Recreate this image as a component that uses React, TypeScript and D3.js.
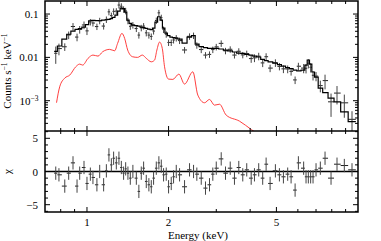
import React, { useRef, useEffect } from 'react';
import * as d3 from 'd3';

// spectrum bins (keV)
const energy = [
  0.767, 0.788, 0.828, 0.856, 0.888, 0.919, 0.940, 0.975, 1.000, 1.029,
  1.052, 1.088, 1.114, 1.152, 1.179, 1.205, 1.230, 1.254, 1.283, 1.312,
  1.339, 1.365, 1.389, 1.416, 1.445, 1.477, 1.521, 1.554, 1.586, 1.618,
  1.655, 1.692, 1.727, 1.761, 1.802, 1.842, 1.880, 1.917, 1.961, 2.000,
  2.046, 2.087, 2.135, 2.196, 2.291, 2.390, 2.473, 2.543, 2.640, 2.737,
  2.832, 2.913, 2.999, 3.128, 3.244, 3.377, 3.501, 3.632, 3.757, 3.886,
  4.035, 4.149, 4.302, 4.450, 4.581, 4.739, 4.957, 5.129, 5.306, 5.503,
  5.664, 5.860, 6.026, 6.302, 6.431, 6.558, 6.688, 6.825, 7.001, 7.262,
  7.558, 7.953, 8.367, 8.903, 9.504,
];

// observed counts s^-1 keV^-1
const counts = [
  0.01244, 0.01596, 0.01757, 0.0329, 0.0516, 0.0294, 0.0441, 0.0560, 0.0409, 0.0657,
  0.0620, 0.0514, 0.0700, 0.0528, 0.0750, 0.1124, 0.0923, 0.1154, 0.1167, 0.1614,
  0.1513, 0.1287, 0.1186, 0.0698, 0.0520, 0.0557, 0.0463, 0.0327, 0.0481, 0.0528,
  0.0368, 0.0327, 0.0304, 0.0405, 0.0708, 0.1066, 0.0826, 0.0439, 0.0342, 0.0221,
  0.0221, 0.0252, 0.0279, 0.0244, 0.01482, 0.0306, 0.0319, 0.01903, 0.01514, 0.0113,
  0.01173, 0.01514, 0.01748, 0.02105, 0.01417, 0.01538, 0.0113, 0.01383, 0.01142, 0.01221,
  0.00938, 0.00976, 0.01066, 0.00746, 0.01035, 0.00566, 0.00752, 0.00621, 0.00543, 0.0054,
  0.00475, 0.00302, 0.00625, 0.00566, 0.0056, 0.0073, 0.0059, 0.00386, 0.0037, 0.00223,
  0.00291, 0.000943, 0.0015, 0.000894, 0.000372,
];

const countErr = [
  0.00535, 0.00479, 0.00351, 0.00658, 0.0103, 0.00588, 0.00882, 0.0112, 0.00818, 0.0112,
  0.0105, 0.0087, 0.0119, 0.0090, 0.0128, 0.0191, 0.0157, 0.0196, 0.0198, 0.0274,
  0.0257, 0.0219, 0.0202, 0.0119, 0.0088, 0.0095, 0.0079, 0.0056, 0.0082, 0.0090,
  0.0063, 0.0056, 0.0052, 0.0069, 0.0120, 0.0181, 0.0140, 0.0075, 0.0058, 0.0038,
  0.0038, 0.0043, 0.0047, 0.0041, 0.0025, 0.0052, 0.0054, 0.0032, 0.0026, 0.0019,
  0.0020, 0.0026, 0.0030, 0.0036, 0.0024, 0.0026, 0.0019, 0.0024, 0.0019, 0.0021,
  0.0019, 0.0020, 0.0021, 0.0015, 0.0021, 0.0011, 0.0015, 0.0012, 0.0011, 0.0011,
  0.00095, 0.0006, 0.00125, 0.00136, 0.00134, 0.00175, 0.00142, 0.00093, 0.00089, 0.00067,
  0.00108, 0.00052, 0.00068, 0.00049, 0.0002,
];

// total folded model
const model = [
  0.0138, 0.0183, 0.0265, 0.0342, 0.0405, 0.0443, 0.0463, 0.0501, 0.0573, 0.0700,
  0.0715, 0.0708, 0.0700, 0.0727, 0.0738, 0.0754, 0.0788, 0.0839, 0.0948, 0.1173,
  0.1376, 0.1340, 0.1112, 0.0727, 0.0610, 0.0557, 0.0543, 0.0528, 0.0501, 0.0488,
  0.0467, 0.0450, 0.0439, 0.0475, 0.0653, 0.0866, 0.0727, 0.0475, 0.0364, 0.0319,
  0.0294, 0.0287, 0.0279, 0.0265, 0.0214, 0.0294, 0.0319, 0.0203, 0.0178, 0.0168,
  0.0161, 0.0161, 0.0161, 0.0156, 0.0147, 0.0142, 0.0133, 0.0126, 0.0124, 0.0117,
  0.0113, 0.0107, 0.0102, 0.0090, 0.0084, 0.0079, 0.0074, 0.0068, 0.0063, 0.0058,
  0.0055, 0.0051, 0.0049, 0.0051, 0.0066, 0.0087, 0.0070, 0.0046, 0.0035, 0.00195,
  0.00154, 0.00115, 0.00094, 0.00055, 0.00033,
];

// residuals (chi)
const chi = [
  -0.25, -0.5, -2.2, -0.25, 1.3, -2.2, -0.25, 0.6, -1.8, -0.4,
  -0.9, -2.0, 0, -2.0, 0.1, 2.5, 1.0, 2.0, 1.3, 2.0,
  0.6, -0.25, 0.4, -0.25, -1.0, 0, -1.0, -3.0, -0.25, 0.5,
  -1.5, -2.0, -2.3, -1.0, 0.5, 1.3, 0.8, -0.5, -0.4, -2.3,
  -1.8, -0.8, 0, -0.5, -2.3, 0.25, 0, -0.4, -1.0, -2.5,
  -2.0, -0.4, 0.5, 1.9, -0.25, 0.5, -1.0, 0.6, -0.5, 0.25,
  -1.0, -0.5, 0.25, -1.0, 1.1, -1.8, 0.1, -0.5, -0.8, -0.4,
  -0.8, -2.8, 1.3, 0.5, -0.8, -0.8, -0.8, -0.8, 0.25, 0.5,
  2.0, -1.0, 1.1, 0.9, 0.25,
];

// soft component (red)
const compEnergy = [
  0.772, 0.793, 0.828, 0.864, 0.909, 0.940, 0.964, 1.009, 1.052, 1.098,
  1.142, 1.212, 1.265, 1.297, 1.346, 1.377, 1.413, 1.474, 1.538, 1.600,
  1.655, 1.727, 1.776, 1.811, 1.853, 1.896, 1.933, 2.000, 2.074, 2.183,
  2.291, 2.458, 2.564, 2.715, 2.832, 2.954, 3.083, 3.263, 3.653, 4.045, 4.328,
];
const compValue = [
  0.00090, 0.00209, 0.00333, 0.0039, 0.00607, 0.0070, 0.00664, 0.0095, 0.0113, 0.0107,
  0.01346, 0.0153, 0.0142, 0.0210, 0.0358, 0.0275, 0.01476, 0.01033, 0.0100, 0.0113,
  0.0095, 0.0079, 0.00867, 0.01476, 0.02255, 0.01614, 0.00607, 0.00315, 0.0031, 0.00411,
  0.00242, 0.00465, 0.00135, 0.000896, 0.00107, 0.00079, 0.00083, 0.000465, 0.000338, 0.000215, 0.00016,
];

const energyTicks = [1, 2, 5];
const energyMinor = [0.8, 0.9, 1, 2, 3, 4, 5, 6, 7, 8, 9];
const chiTicks = [5, 0, -5];

const W = 381, H = 241;
const L = 45, R = 358, T = 1, MID = 131, B = 212;
const FONT = '"Liberation Serif", "Times New Roman", serif';

export default function App() {
  const svgRef = useRef<SVGSVGElement>(null);

  useEffect(() => {
    const svg = d3.select(svgRef.current);
    svg.selectAll('*').remove();

    const x = d3.scaleLog().domain([0.7, 10]).range([L, R]);
    const y = d3.scaleLog().domain([2e-4, 0.2]).range([MID, T]);
    const yc = d3.scaleLinear().domain([-6.1, 6.1]).range([B, MID]);

    // bin edges halfway in log space
    const n = energy.length;
    const lo = energy.map((e, i) => (i > 0 ? Math.sqrt(energy[i - 1] * e) : e * Math.sqrt(e / energy[1])));
    const hi = energy.map((e, i) => (i < n - 1 ? Math.sqrt(energy[i + 1] * e) : e * Math.sqrt(e / energy[n - 2])));

    svg.append('defs').append('clipPath').attr('id', 'topclip')
      .append('rect').attr('x', L).attr('y', T).attr('width', R - L).attr('height', MID - T);

    const top = svg.append('g').attr('clip-path', 'url(#topclip)');

    // red component
    top.append('path')
      .attr('d', d3.line<number>().x((d, i) => x(compEnergy[i])).y(d => y(d)).curve(d3.curveMonotoneX)(compValue))
      .attr('fill', 'none').attr('stroke', '#ff2a2a').attr('stroke-width', 0.9);

    // data crosses
    energy.forEach((e, i) => {
      const v = counts[i];
      const cy = y(v);
      top.append('line').attr('x1', x(lo[i])).attr('x2', x(hi[i])).attr('y1', cy).attr('y2', cy)
        .attr('stroke', '#222').attr('stroke-width', 1);
      top.append('line').attr('x1', x(e)).attr('x2', x(e))
        .attr('y1', y(Math.max(v - countErr[i], 1e-5))).attr('y2', y(v + countErr[i]))
        .attr('stroke', '#444').attr('stroke-width', 1);
    });

    // model step
    const steps: [number, number][] = [];
    energy.forEach((e, i) => {
      steps.push([x(lo[i]), y(model[i])]);
      steps.push([x(hi[i]), y(model[i])]);
    });
    top.append('path').attr('d', d3.line()(steps))
      .attr('fill', 'none').attr('stroke', '#000').attr('stroke-width', 1.2);

    // residuals
    const bot = svg.append('g');
    bot.append('line').attr('x1', L).attr('x2', R).attr('y1', yc(0)).attr('y2', yc(0))
      .attr('stroke', '#000').attr('stroke-width', 1.5);
    energy.forEach((e, i) => {
      const c = chi[i];
      bot.append('line').attr('x1', x(lo[i])).attr('x2', x(hi[i])).attr('y1', yc(c)).attr('y2', yc(c))
        .attr('stroke', '#222').attr('stroke-width', 1);
      bot.append('line').attr('x1', x(e)).attr('x2', x(e)).attr('y1', yc(c - 1)).attr('y2', yc(c + 1))
        .attr('stroke', '#444').attr('stroke-width', 1);
    });

    // ticks
    const ticks = svg.append('g').attr('stroke', '#000').attr('stroke-width', 1);
    const tick = (x1: number, y1: number, x2: number, y2: number) =>
      ticks.append('line').attr('x1', x1).attr('y1', y1).attr('x2', x2).attr('y2', y2);

    [[T, MID], [MID, B]].forEach(([y0, y1]) => {
      energyMinor.forEach(t => {
        const len = energyTicks.includes(t) ? 5 : 3;
        tick(x(t), y0, x(t), y0 + len);
        tick(x(t), y1, x(t), y1 - len);
      });
    });
    for (let k = -4; k <= -1; k++) {
      for (let m = 1; m <= 9; m++) {
        const v = m * Math.pow(10, k);
        if (v <= 2e-4 || v >= 0.2) continue;
        const len = m === 1 ? 5 : 3;
        tick(L, y(v), L + len, y(v));
        tick(R, y(v), R - len, y(v));
      }
    }
    for (let c = -6; c <= 6; c++) {
      const len = c % 5 === 0 ? 5 : 3;
      tick(L, yc(c), L + len, yc(c));
      tick(R, yc(c), R - len, yc(c));
    }

    // frame
    svg.append('rect').attr('x', L).attr('y', T).attr('width', R - L).attr('height', B - T)
      .attr('fill', 'none').attr('stroke', '#000').attr('stroke-width', 1.5);
    svg.append('line').attr('x1', L).attr('x2', R).attr('y1', MID).attr('y2', MID)
      .attr('stroke', '#000').attr('stroke-width', 1.5);

    // labels
    const txt = svg.append('g').attr('font-family', FONT).attr('font-size', 11).attr('fill', '#000');
    const yLabels = [
      { v: 0.1, t: '0.1' },
      { v: 0.01, t: '0.01' },
    ];
    yLabels.forEach(d => {
      txt.append('text').attr('x', 38.5).attr('y', y(d.v) + 4).attr('text-anchor', 'end').text(d.t);
    });
    const exp = txt.append('text').attr('x', 38.5).attr('y', y(1e-3) + 4).attr('text-anchor', 'end');
    exp.append('tspan').text('10');
    exp.append('tspan').attr('dy', -4).attr('font-size', 7.5).text('−3');

    chiTicks.forEach(c => {
      txt.append('text').attr('x', 38).attr('y', yc(c) + 4).attr('text-anchor', 'end')
        .text(c < 0 ? `−${-c}` : `${c}`);
    });
    energyTicks.forEach(t => {
      txt.append('text').attr('x', x(t)).attr('y', B + 14).attr('text-anchor', 'middle').text(`${t}`);
    });
    txt.append('text').attr('x', 198).attr('y', 239).attr('text-anchor', 'middle').text('Energy (keV)');

    const yl = txt.append('text').attr('transform', 'translate(11, 71) rotate(-90)')
      .attr('text-anchor', 'middle');
    yl.append('tspan').text('Counts s');
    yl.append('tspan').attr('dy', -4).attr('font-size', 7.5).text('−1');
    yl.append('tspan').attr('dy', 4).text(' keV');
    yl.append('tspan').attr('dy', -4).attr('font-size', 7.5).text('−1');

    txt.append('text').attr('transform', `translate(11, ${yc(0)}) rotate(-90)`)
      .attr('text-anchor', 'middle').text('χ');
  }, []);

  return (
    <svg ref={svgRef} width={W} height={H}
      style={{ position: 'absolute', left: 0, top: 0, background: '#fff' }} />
  );
}
